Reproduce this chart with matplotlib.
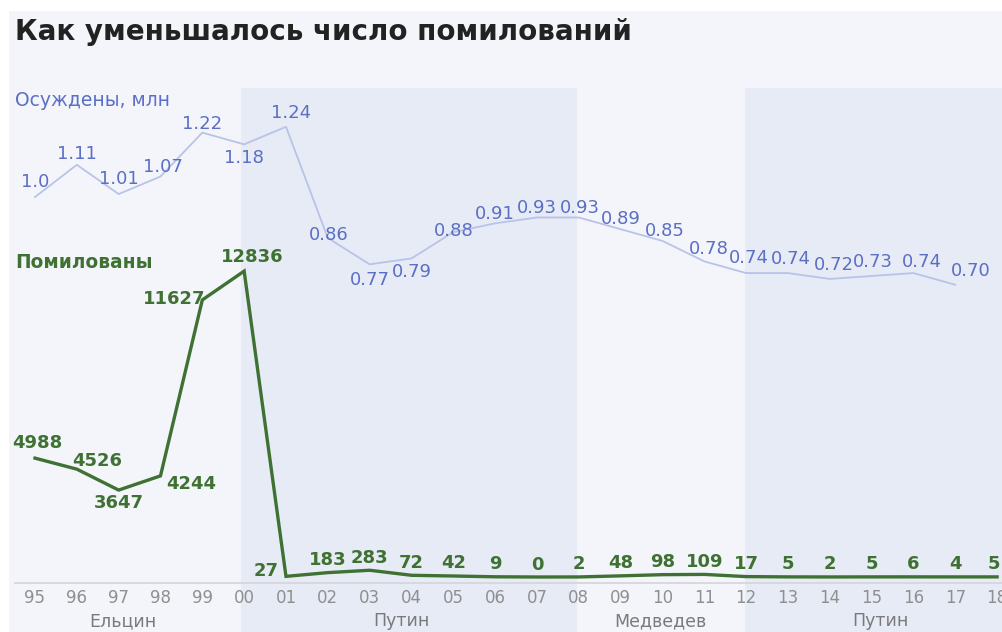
import matplotlib.pyplot as plt
import matplotlib.transforms as mtransforms
from matplotlib.patches import Rectangle

years = ["95", "96", "97", "98", "99", "00", "01", "02", "03", "04", "05", "06",
         "07", "08", "09", "10", "11", "12", "13", "14", "15", "16", "17", "18"]
pardoned = [4988, 4526, 3647, 4244, 11627, 12836, 27, 183, 283, 72, 42, 9,
            0, 2, 48, 98, 109, 17, 5, 2, 5, 6, 4, 5]
convicted = [1.0, 1.11, 1.01, 1.07, 1.22, 1.18, 1.24, 0.86, 0.77, 0.79, 0.88, 0.91,
             0.93, 0.93, 0.89, 0.85, 0.78, 0.74, 0.74, 0.72, 0.73, 0.74, 0.70]
convicted_labels = ["1.0", "1.11", "1.01", "1.07", "1.22", "1.18", "1.24", "0.86", "0.77",
                    "0.79", "0.88", "0.91", "0.93", "0.93", "0.89", "0.85", "0.78", "0.74",
                    "0.74", "0.72", "0.73", "0.74", "0.70"]
presidents = ["Ельцин", "Путин", "Медведев", "Путин"]
president_pos = [2.1, 8.75, 14.95, 20.2]
# shaded terms (in year-index units)
bands = [(4.92, 12.96), (16.97, 24.0)]

W, H = 1003, 632
BLUE_TXT = "#5b6fc4"
BLUE_LINE = "#b9c3e8"
GREEN = "#3f7133"
GRAY = "#8f8f8f"
FONT = "DejaVu Sans"

fig = plt.figure(figsize=(W / 100, H / 100), dpi=100)
fig.patch.set_facecolor("white")
fig.patches.append(Rectangle((9 / W, 0), 1, 1 - 11 / H, transform=fig.transFigure,
                             facecolor="#f3f5fb", edgecolor="none", zorder=-5))

# pixel mapping: index 0 -> x=35, step 41.83 px
step = 41.83
x0 = -35 / step
ax = fig.add_axes([0, 0, 1, 1])
ax.set_xlim(x0, x0 + W / step)
# pardoned scale: 0 at y=577 px, 0.02383 px per pardon
upp = 1 / 0.02383
ax.set_ylim(-(H - 577) * upp, 577 * upp)
ax.set_axis_off()
ax.patch.set_alpha(0)

ax2 = ax.twinx()
ppv = 292.6
ax2.set_ylim(1.0 - (H - 197) / ppv, 1.0 + 197 / ppv)
ax2.set_axis_off()
ax2.patch.set_alpha(0)

yfig = mtransforms.blended_transform_factory(ax.transData, fig.transFigure)

for a, b in bands:
    ax.add_patch(Rectangle((a, 0), b - a, 1 - 88 / H, transform=yfig,
                           facecolor="#e7ebf6", edgecolor="none", zorder=0))

# baseline
ax.plot([x0 + 15 / step, 24], [1 - 583 / H] * 2, transform=yfig, color="#d4d4d8",
        lw=1.2, zorder=1)

xs = list(range(len(years)))
ax2.plot(xs[:len(convicted)], convicted, color=BLUE_LINE, lw=1.3, zorder=2)
ax.plot(xs, pardoned, color=GREEN, lw=2.4, zorder=3, solid_joinstyle="miter")

# label offsets in points (dx, dy)
conv_off = [(0, 11), (0, 8), (0, 11), (2, 7), (0, 6), (0, -10), (4, 10), (1, 2), (0, -11),
            (0, -10), (0, 1), (0, 7), (0, 7), (1, 7), (0, 7), (2, 7), (3, 9), (2, 11),
            (2, 10), (3, 10), (1, 10), (6, 8), (11, 10)]
for i, (v, lbl) in enumerate(zip(convicted, convicted_labels)):
    dx, dy = conv_off[i]
    ax2.annotate(lbl, (i, v), xytext=(dx, dy), textcoords="offset points",
                 ha="center", va="center", color=BLUE_TXT, fontsize=13,
                 family=FONT, zorder=5)

pard_off = [(2, 11), (15, 6), (0, -9), (22, -6), (-20, 1), (6, 10), (-14, 4)]
pard_off += [(0, 9)] * (len(pardoned) - len(pard_off) - 1) + [(-2, 9)]
for i, v in enumerate(pardoned):
    dx, dy = pard_off[i]
    ax.annotate(str(v), (i, v), xytext=(dx, dy), textcoords="offset points",
                ha="center", va="center", color=GREEN, fontsize=13,
                fontweight="bold", family=FONT, zorder=5)

for i, y in enumerate(years):
    ax.text(i, 1 - 598 / H, y, transform=yfig, ha="center", va="center",
            color=GRAY, fontsize=12, family=FONT)
for name, p in zip(presidents, president_pos):
    ax.text(p, 1 - 621 / H, name, transform=yfig, ha="center", va="center",
            color="#7a7a7a", fontsize=12.5, family=FONT)

fig.text(15 / W, 1 - 32 / H, "Как уменьшалось число помилований", ha="left",
         va="center", color="#222222", fontsize=20, fontweight="bold", family=FONT)
fig.text(15 / W, 1 - 100 / H, "Осуждены, млн", ha="left", va="center",
         color=BLUE_TXT, fontsize=13.5, family=FONT)
fig.text(15 / W, 1 - 262 / H, "Помилованы", ha="left", va="center",
         color=GREEN, fontsize=13.4, fontweight="bold", family=FONT)

fig.savefig("out.png", dpi=100)
